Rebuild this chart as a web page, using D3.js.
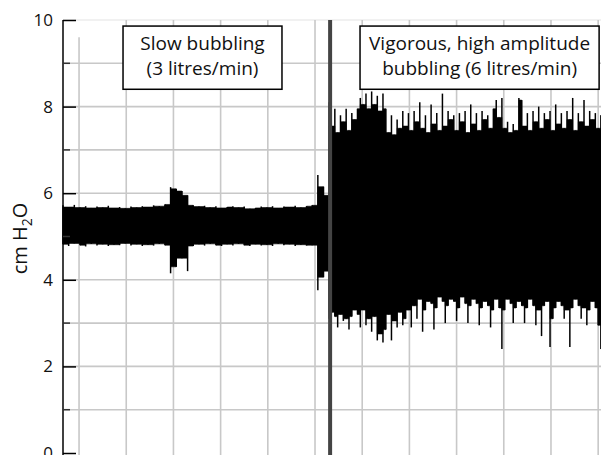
<!DOCTYPE html>
<html>
<head>
<meta charset="utf-8">
<script src="https://cdn.jsdelivr.net/npm/d3@7"></script>
<style>
  body { margin: 0; background: #fff; }
  svg { display: block; font-family: "Open Sans", "DejaVu Sans", sans-serif; }
</style>
</head>
<body>
<div id="chart"></div>
<script>
// Data: pressure envelope (cm H2O)
// slow bubbling part, one sample every 6 s from t = 0
const slowStart = 0;
const slowStep = 6;
const slowHi = [
    5.72, 5.68, 5.73, 5.67, 5.70, 5.66, 5.69, 5.67, 5.71, 5.66,
    5.68, 5.65, 5.69, 5.67, 5.70, 5.68, 5.72, 5.70, 5.74, 6.14,
    6.10, 6.05, 5.95, 5.72, 5.69, 5.71, 5.67, 5.70, 5.66, 5.68,
    5.70, 5.67, 5.69, 5.64, 5.66, 5.69, 5.67, 5.70, 5.66, 5.69,
    5.68, 5.71, 5.67, 5.70, 5.72, 6.42, 6.15, 5.95
];
const slowLo = [
    4.82, 4.78, 4.84, 4.80, 4.77, 4.83, 4.79, 4.82, 4.78, 4.81,
    4.80, 4.84, 4.79, 4.82, 4.78, 4.81, 4.79, 4.83, 4.80, 4.15,
    4.30, 4.50, 4.20, 4.78, 4.82, 4.79, 4.83, 4.80, 4.78, 4.82,
    4.79, 4.83, 4.80, 4.78, 4.82, 4.79, 4.81, 4.78, 4.83, 4.80,
    4.82, 4.78, 4.81, 4.79, 4.80, 3.76, 4.06, 4.20
];

// vigorous bubbling part, one sample every 3 s from t = 282
const fastStart = 282;
const fastStep = 3;
const fastHi = [
    8.10, 7.55, 7.95, 7.40, 7.80, 7.65, 7.95, 7.45, 7.85, 7.70,
    7.95, 8.20, 8.05, 8.30, 7.95, 8.35, 8.05, 8.25, 7.90, 8.30,
    7.95, 7.40, 7.80, 7.35, 7.70, 7.50, 7.90, 7.55, 7.85, 7.45,
    7.90, 7.65, 8.10, 7.50, 7.80, 7.40, 8.05, 7.60, 7.85, 7.45,
    8.30, 7.55, 7.90, 7.70, 7.80, 7.45, 7.85, 7.65, 7.90, 7.40,
    8.05, 7.60, 7.85, 7.45, 7.90, 7.70, 7.80, 7.50, 7.95, 8.15,
    7.75, 8.20, 7.50, 7.65, 7.40, 7.60, 7.45, 8.20, 8.15, 7.55,
    7.85, 7.45, 7.90, 7.65, 8.00, 7.50, 7.85, 7.70, 7.90, 7.45,
    8.05, 7.60, 7.85, 7.50, 7.90, 7.70, 8.20, 7.45, 7.85, 7.65,
    8.15, 7.55, 7.90, 7.70, 7.85, 7.50, 7.80
];
const fastLo = [
    3.10, 3.25, 3.15, 2.90, 3.20, 3.05, 3.10, 2.85, 3.15, 3.30,
    3.20, 2.90, 3.30, 2.95, 3.10, 2.80, 3.15, 2.60, 2.75, 2.55,
    2.85, 3.20, 2.60, 3.05, 2.90, 3.25, 2.95, 3.10, 3.30, 2.90,
    3.40, 3.10, 3.55, 2.80, 3.30, 3.50, 3.45, 2.85, 3.35, 3.60,
    3.50, 3.00, 3.40, 3.55, 3.50, 3.05, 3.35, 3.60, 3.45, 3.00,
    3.40, 3.55, 3.45, 2.95, 3.35, 3.50, 3.40, 2.90, 3.30, 3.55,
    3.35, 2.40, 3.30, 3.55, 3.45, 3.00, 3.35, 3.50, 3.40, 3.00,
    3.35, 3.55, 3.40, 2.95, 3.30, 2.70, 3.40, 3.50, 2.45, 3.10,
    3.35, 3.50, 3.40, 3.10, 3.30, 2.45, 3.35, 3.55, 3.40, 3.10,
    3.35, 2.95, 3.30, 3.50, 3.35, 2.95, 2.40
];

// time of the flow change (s)
const switchTime = 283;

// axis / grid
const yMajor = [0, 2, 4, 6, 8, 10];
const yMinor = [1, 3, 5, 7, 9];
const yGrid = [1, 2, 3, 4, 5, 6, 7, 8, 9, 10];
const xGrid = [17, 67, 117, 167, 217, 267, 317, 367, 417, 467, 517, 567];

// labels
const slowNote = ["Slow bubbling", "(3 litres/min)"];
const fastNote = ["Vigorous, high amplitude", "bubbling (6 litres/min)"];

// Dimensions
const width = 601;
const height = 455;
const margin = { top: 20, right: 0, bottom: 2, left: 63 };

const svg = d3.select("#chart")
    .append("svg")
    .attr("width", width)
    .attr("height", height);

// Scales
const x = d3.scaleLinear()
    .domain([0, 570])
    .range([margin.left, width - margin.right]);

const y = d3.scaleLinear()
    .domain([0, 10])
    .range([height - margin.bottom, margin.top]);

// Grid
svg.append("g")
    .selectAll("line")
    .data(yGrid)
    .enter()
    .append("line")
    .attr("x1", x(0))
    .attr("x2", width)
    .attr("y1", d => y(d))
    .attr("y2", d => y(d))
    .attr("stroke", d => d === 10 ? "#ececec" : "#c8c8c8")
    .attr("stroke-width", 1.6);

svg.append("g")
    .selectAll("line")
    .data(xGrid)
    .enter()
    .append("line")
    .attr("x1", d => x(d))
    .attr("x2", d => x(d))
    .attr("y1", (d, i) => i === 0 ? y(9.6) : y(10))
    .attr("y2", height)
    .attr("stroke", "#c8c8c8")
    .attr("stroke-width", 1.6);

// Trace: solid core between samples + thin spike per sample
function drawTrace(hi, lo, start, step) {
    const pts = hi.map((h, i) => ({ t: start + i * step, hi: h, lo: lo[i] }));
    // core: in each interval, fill only to the smaller excursion
    const core = pts.map((d, i) => {
        const n = pts[Math.min(i + 1, pts.length - 1)];
        return { t: d.t, hi: Math.min(d.hi, n.hi), lo: Math.max(d.lo, n.lo) };
    });
    svg.append("path")
        .datum(core)
        .attr("d", d3.area()
            .curve(d3.curveStepAfter)
            .x(d => x(d.t))
            .y0(d => y(d.lo))
            .y1(d => y(d.hi)))
        .attr("fill", "#000")
        .attr("stroke", "#000")
        .attr("stroke-width", 0.6);
    svg.append("g")
        .selectAll("line")
        .data(pts)
        .enter()
        .append("line")
        .attr("x1", d => x(d.t))
        .attr("x2", d => x(d.t))
        .attr("y1", d => y(d.lo))
        .attr("y2", d => y(d.hi))
        .attr("stroke", "#000")
        .attr("stroke-width", 1.5);
}

drawTrace(slowHi, slowLo, slowStart, slowStep);
drawTrace(fastHi, fastLo, fastStart, fastStep);

// Flow change marker
svg.append("line")
    .attr("x1", x(switchTime))
    .attr("x2", x(switchTime))
    .attr("y1", y(10))
    .attr("y2", height)
    .attr("stroke", "#444")
    .attr("stroke-width", 4);

// Y axis
const yAxis = svg.append("g")
    .attr("transform", `translate(${x(0)},0)`)
    .call(d3.axisLeft(y)
        .tickValues(yMajor)
        .tickSizeInner(-13)
        .tickSizeOuter(0)
        .tickPadding(10)
        .tickFormat(d3.format("d")));

yAxis.select(".domain")
    .attr("stroke", "#000")
    .attr("stroke-width", 1.5)
    .attr("d", `M0,${y(10)}V${height}`);

yAxis.selectAll(".tick line")
    .attr("stroke", "#000")
    .attr("stroke-width", 1.5);

yAxis.selectAll("text")
    .style("font-size", "17px")
    .style("font-family", "'Open Sans', sans-serif")
    .attr("fill", "#111");

svg.append("g")
    .selectAll("line")
    .data(yMinor)
    .enter()
    .append("line")
    .attr("x1", x(0))
    .attr("x2", x(0) + 7)
    .attr("y1", d => y(d))
    .attr("y2", d => y(d))
    .attr("stroke", "#333")
    .attr("stroke-width", 1.5);

// Y label
const yLabel = svg.append("text")
    .attr("transform", `translate(27,${(y(4) + y(6)) / 2 + 2}) rotate(-90)`)
    .attr("text-anchor", "middle")
    .style("font-size", "20px")
    .attr("fill", "#111");
yLabel.append("tspan").text("cm H");
yLabel.append("tspan").attr("dy", 5).style("font-size", "14px").text("2");
yLabel.append("tspan").attr("dy", -5).text("O");

// Notes
function note(lines, t0, t1) {
    const g = svg.append("g");
    g.append("rect")
        .attr("x", x(t0))
        .attr("y", y(9.86))
        .attr("width", x(t1) - x(t0))
        .attr("height", y(8.4) - y(9.86))
        .attr("fill", "#fff")
        .attr("stroke", "#000")
        .attr("stroke-width", 1.5);
    g.selectAll("text")
        .data(lines)
        .enter()
        .append("text")
        .attr("x", (x(t0) + x(t1)) / 2)
        .attr("y", (d, i) => y(9.3) + i * 25)
        .attr("text-anchor", "middle")
        .style("font-size", "19px")
        .attr("fill", "#111")
        .text(d => d);
}

note(slowNote, 63.6, 232);
note(fastNote, 314.7, 568);
</script>
</body>
</html>
